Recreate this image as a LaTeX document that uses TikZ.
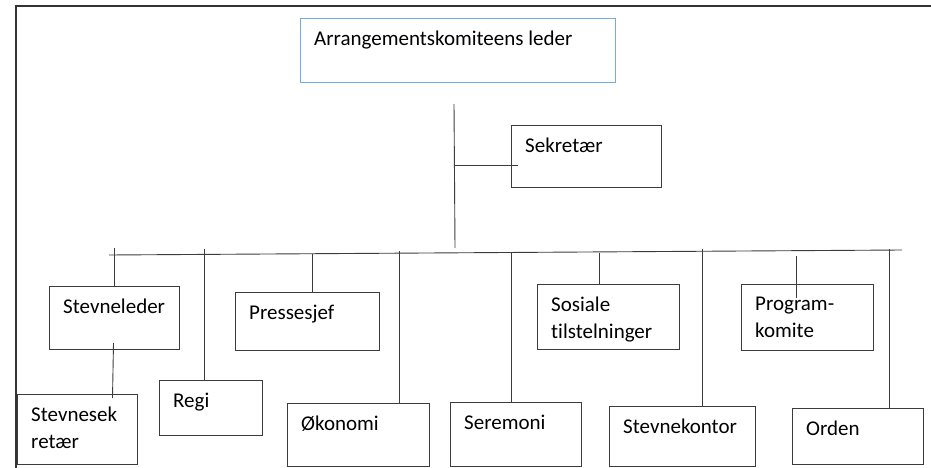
\documentclass[tikz,border=0pt]{standalone}
\usepackage{fontspec}
\setmainfont{Carlito}[Ligatures=NoCommon]
\definecolor{ledblue}{RGB}{115,172,226}
\definecolor{boxline}{RGB}{60,60,60}

\begin{document}
\begin{tikzpicture}[x=1pt, y=-1pt,
    orgbox/.style={draw=boxline, line width=1pt, anchor=north west, inner sep=0pt},
    boxtext/.style={anchor=north west, inner sep=0pt, xshift=14pt, yshift=-13pt,
        align=left, font=\fontsize{21}{27}\selectfont},
    link/.style={draw=boxline, line width=0.9pt}]
    \useasboundingbox (0,0) rectangle (931,468);

    % Frame
    \draw[line width=1.5pt, draw=black!80] (16,468) -- (16,6) -- (931,6);

    % Top level
    \node[orgbox, draw=ledblue, minimum width=315pt, minimum height=64pt,
        label={[boxtext]north west:Arrangementskomiteens leder}] (leder) at (300,18) {};
    \node[orgbox, minimum width=150pt, minimum height=62pt,
        label={[boxtext]north west:Sekretær}] (sekretaer) at (511,125) {};

    % Upper row
    \node[orgbox, minimum width=130pt, minimum height=63pt,
        label={[boxtext]north west:Stevneleder}] (stevneleder) at (49,286) {};
    \node[orgbox, minimum width=144pt, minimum height=58pt,
        label={[boxtext]north west:Pressesjef}] (presse) at (235,292) {};
    \node[orgbox, minimum width=142pt, minimum height=65pt,
        label={[boxtext]north west:Sosiale\\tilstelninger}] (sosiale) at (537,284) {};
    \node[orgbox, minimum width=132pt, minimum height=66pt,
        label={[boxtext]north west:Program-\\komite}] (program) at (741,284) {};

    % Lower row
    \node[orgbox, minimum width=120pt, minimum height=70pt,
        label={[boxtext]north west:Stevnesek\\retær}] (stevnesek) at (17,394) {};
    \node[orgbox, minimum width=103pt, minimum height=55pt,
        label={[boxtext]north west:Regi}] (regi) at (159,380) {};
    \node[orgbox, minimum width=142pt, minimum height=63pt,
        label={[boxtext]north west:Økonomi}] (okonomi) at (287,403) {};
    \node[orgbox, minimum width=131pt, minimum height=64pt,
        label={[boxtext]north west:Seremoni}] (seremoni) at (450,402) {};
    \node[orgbox, minimum width=146pt, minimum height=60pt,
        label={[boxtext]north west:Stevnekontor}] (kontor) at (609,406) {};
    \node[orgbox, minimum width=131pt, minimum height=56pt,
        label={[boxtext]north west:Orden}] (orden) at (792,408) {};

    % Trunk and bus
    \coordinate (trunk-top) at (454,104);
    \coordinate (trunk-bot) at (455,248);
    \coordinate (sek-tap) at (454,165);
    \coordinate (bus-l) at (109,255);
    \coordinate (bus-r) at (902,250);
    \draw[link] (trunk-top) -- (trunk-bot);
    \draw[link] (sek-tap) -- ([xshift=7pt]sekretaer.west |- sek-tap);
    \draw[link] (bus-l) -- (bus-r);

    % Branches
    \coordinate (tap-stevneleder) at (114,248);
    \coordinate (tap-regi) at (204,249);
    \coordinate (tap-presse) at (312,254);
    \coordinate (tap-okonomi) at (399,251);
    \coordinate (tap-seremoni) at (511,253);
    \coordinate (tap-sosiale) at (599,253);
    \coordinate (tap-kontor) at (702,249);
    \coordinate (tap-program) at (796,256);
    \coordinate (tap-orden) at (889,249);
    \draw[link] (tap-stevneleder) -- (tap-stevneleder |- stevneleder.north);
    \draw[link] (tap-regi) -- (tap-regi |- regi.north);
    \draw[link] (tap-presse) -- (tap-presse |- presse.north);
    \draw[link] (tap-okonomi) -- (tap-okonomi |- okonomi.north);
    \draw[link] (tap-seremoni) -- (tap-seremoni |- seremoni.north);
    \draw[link] (tap-sosiale) -- (tap-sosiale |- sosiale.north);
    \draw[link] (tap-kontor) -- (tap-kontor |- kontor.north);
    \draw[link] (tap-program) -- ([yshift=-14pt]tap-program |- program.north);
    \draw[link] (tap-orden) -- (tap-orden |- orden.north);
    \draw[link] ([xshift=-1pt,yshift=7pt]stevneleder.south)
        -- ([xshift=-2pt,yshift=-4pt]stevneleder.south |- stevnesek.north);
\end{tikzpicture}
\end{document}
